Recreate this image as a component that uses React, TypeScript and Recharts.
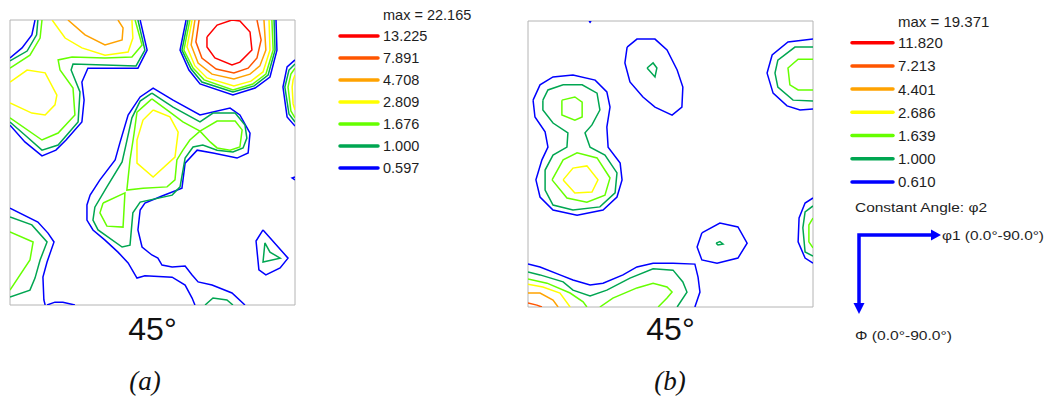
import { ScatterChart, Scatter, XAxis, YAxis, ReferenceArea } from "recharts";

// ODF sections at phi2 = 45deg; contour polylines are (phi1, PHI) in degrees
type Pt = [number, number];
type Contour = { level: number; pts: Pt[] };

const LEVEL_COLORS = ["#ff0000", "#ff5500", "#ffa200", "#ffff00", "#66ff00", "#00a651", "#0000ff"];
const RED = 0, ORANGERED = 1, ORANGE = 2, YELLOW = 3, GREEN = 4, DKGREEN = 5, BLUE = 6;

const LEVELS_A = ["13.225", "7.891", "4.708", "2.809", "1.676", "1.000", "0.597"];
const MAX_A = "22.165";
const LEVELS_B = ["11.820", "7.213", "4.401", "2.686", "1.639", "1.000", "0.610"];
const MAX_B = "19.371";
const SECTION_LABEL = "45°";

// ---- section (a)
const aBlueCorner: Pt[] = [[7.9, 0], [6.9, 4.7], [3.8, 8.8], [0, 12.0]];
const aDkGreenCorner: Pt[] = [[8.8, 0], [8.4, 4.7], [5.4, 9.8], [0, 12.9]];
const aGreenCorner: Pt[] = [[10.1, 0], [9.5, 5.7], [6.3, 11.1], [0, 15.2]];
const aYellowTop: Pt[] = [[13.3, 0], [17.4, 5.7], [22.7, 8.8], [30.0, 11.1], [37.3, 10.1], [38.8, 5.7], [38.5, 0]];
const aOrangeTop: Pt[] = [[18.3, 0], [23.7, 4.7], [30.0, 7.9], [35.4, 6.3], [35.7, 2.5], [34.1, 0]];
const aBlueWest: Pt[] = [[41.1, 0], [43.3, 9.5], [40.4, 15.2], [24.6, 15.2], [22.7, 19.6], [23.4, 25.3], [22.7, 32.2], [17.7, 37.9], [14.5, 41.1], [10.1, 42.9], [4.7, 38.5], [0, 33.2]];
const aDkGreenWest: Pt[] = [[40.4, 0], [42.6, 9.5], [39.8, 14.5], [19.9, 13.9], [19.3, 15.8], [22.1, 22.7], [21.5, 32.2], [15.2, 39.5], [10.1, 41.1], [4.7, 36.3], [0, 32.2]];
const aGreenWest: Pt[] = [[39.5, 0], [41.7, 7.9], [38.5, 11.7], [30.0, 12.0], [19.6, 11.7], [15.2, 12.6], [15.8, 15.8], [19.9, 21.5], [20.5, 30.0], [15.2, 35.7], [10.1, 37.9], [0, 30.9]];
const aYellowWest: Pt[] = [[0, 19.6], [5.4, 15.8], [11.1, 16.7], [14.8, 23.7], [14.2, 26.8], [11.1, 30.0], [6.9, 29.4], [0, 26.2]];

const aBlueNE: Pt[] = [[55.6, 0], [53.7, 9.5], [56.5, 15.8], [60.0, 20.2], [70.4, 23.7], [77.4, 21.5], [82.1, 18.0], [84.3, 9.5], [84.0, 0]];
const aDkGreenNE: Pt[] = [[56.2, 0], [54.3, 9.5], [57.2, 15.5], [60.6, 19.6], [70.4, 22.7], [77.1, 20.8], [81.5, 17.4], [83.7, 9.5], [83.4, 0]];
const aGreenNE: Pt[] = [[56.8, 0], [54.9, 9.5], [57.8, 15.2], [61.3, 18.9], [70.4, 22.1], [76.7, 20.2], [80.8, 17.1], [83.1, 9.5], [82.7, 0]];
const aYellowNE: Pt[] = [[57.5, 0], [55.9, 8.5], [58.4, 14.5], [62.2, 18.3], [70.7, 20.8], [76.1, 19.3], [79.9, 16.4], [82.1, 9.5], [81.8, 0]];
const aOrangeNE: Pt[] = [[58.4, 0], [57.2, 7.9], [59.4, 13.6], [63.8, 17.1], [70.7, 18.6], [75.8, 17.1], [78.9, 14.5], [80.8, 9.5], [80.2, 0]];
const aOrangeRedNE: Pt[] = [[59.7, 0], [58.7, 6.9], [60.6, 12.0], [65.1, 15.5], [70.7, 16.7], [75.2, 15.2], [78.0, 12.0], [79.3, 6.3], [78.0, 0]];
const aRedNE: Pt[] = [[62.2, 5.4], [65.4, 1.6], [70.1, 0], [72.6, 0.3], [75.8, 3.8], [76.4, 9.5], [72.6, 13.3], [70.1, 14.2], [64.7, 12.0], [62.2, 8.5], [62.2, 5.4]];

const aBlueEast: Pt[] = [[90, 12.6], [87.5, 14.8], [86.2, 21.2], [87.5, 30.6], [90, 33.5]];
const aDkGreenEast: Pt[] = [[90, 13.9], [88.1, 15.8], [86.8, 21.2], [88.1, 29.7], [90, 32.2]];
const aGreenEast: Pt[] = [[90, 15.2], [88.7, 17.1], [87.8, 21.2], [88.7, 28.7], [90, 30.9]];
const aYellowEast: Pt[] = [[90, 17.4], [89.4, 18.9], [89.1, 21.2], [89.4, 26.5], [90, 28.4]];
const aBlueEdge: Pt[] = [[90, 49.6], [89.1, 49.9], [90, 50.5]];

const aBlueMid: Pt[] = [
  [58.4, 90], [57.5, 87.8], [55.3, 83.7], [51.2, 81.2], [42.6, 80.8], [40.1, 81.5], [37.3, 76.7], [34.1, 73.3],
  [30.0, 69.5], [26.2, 66.3], [24.3, 63.2], [24.3, 58.4], [25.3, 55.3], [28.4, 50.5], [33.2, 44.2], [34.7, 38.8],
  [37.3, 30.0], [41.1, 24.3], [45.2, 21.5], [51.5, 25.3], [60.0, 30.0], [69.5, 27.8], [72.6, 30.0], [75.8, 35.7],
  [75.2, 42.0], [71.7, 43.6], [64.1, 42.0], [59.1, 41.1], [55.3, 45.2], [54.3, 53.1], [48.0, 55.6], [42.6, 57.8],
  [41.1, 60.0], [40.4, 66.3], [41.7, 71.7], [44.8, 74.2], [46.7, 75.2], [48.0, 77.4], [51.2, 78.0], [55.3, 77.7],
  [57.5, 80.5], [59.4, 82.7], [63.8, 83.7], [70.1, 86.2], [74.2, 90],
];
const aDkGreenMid: Pt[] = [
  [44.8, 23.1], [41.1, 25.6], [38.5, 30.9], [36.6, 39.5], [35.4, 44.8], [30.6, 52.7], [26.8, 59.1], [26.2, 63.2],
  [27.8, 66.3], [35.4, 71.7], [37.9, 71.1], [38.8, 60.9], [41.1, 57.5], [51.2, 55.3], [53.7, 52.7], [55.3, 43.6],
  [57.8, 40.1], [60.9, 39.5], [65.4, 41.1], [70.4, 41.7], [73.6, 40.4], [74.8, 37.3], [74.2, 33.2], [71.1, 29.4],
  [64.1, 29.4], [60.0, 32.2], [51.5, 27.5], [44.8, 23.1],
];
const aGreenMid: Pt[] = [
  [44.8, 24.9], [50.5, 29.1], [54.6, 32.2], [60.0, 35.1], [63.2, 38.5], [65.4, 40.4], [69.5, 41.1], [72.6, 40.1],
  [73.3, 34.7], [71.1, 31.9], [65.4, 31.9], [60.0, 35.1], [56.8, 37.9], [54.6, 41.1], [52.7, 44.2], [52.1, 50.5],
  [49.6, 52.7], [42.0, 53.1], [36.9, 53.7], [37.9, 44.2], [39.2, 35.7], [40.1, 29.1], [44.8, 24.9],
];
const aGreenLobe: Pt[] = [[29.4, 57.8], [36.3, 54.6], [35.7, 65.4], [30.6, 65.1], [28.4, 60.9], [29.4, 57.8]];
const aYellowMid: Pt[] = [[45.2, 28.4], [50.5, 30.6], [53.1, 35.4], [52.1, 43.3], [45.2, 49.6], [40.1, 45.2], [40.1, 37.9], [42.0, 31.6], [45.2, 28.4]];

const aBlueSW: Pt[] = [[0, 59.4], [8.8, 63.8], [12.0, 67.3], [13.9, 70.1], [11.7, 76.4], [10.4, 81.2], [10.7, 88.4], [11.1, 90]];
const aDkGreenSW: Pt[] = [[0, 62.2], [6.9, 64.7], [11.7, 70.1], [9.5, 75.8], [7.9, 81.5], [6.3, 85.3], [0, 87.5]];
const aGreenSW: Pt[] = [[0, 66.9], [7.3, 70.1], [6.3, 75.8], [0, 85.3]];
const aBlueSouth: Pt[] = [[11.7, 90], [14.2, 89.1], [16.7, 89.1], [20.5, 90]];
const aDkGreenSouth: Pt[] = [[61.6, 90], [64.1, 87.8], [68.5, 88.4], [70.4, 90]];
const aBlueTri: Pt[] = [[79.9, 66.3], [77.7, 69.8], [78.6, 78.9], [80.8, 80.5], [85.3, 78.3], [87.8, 75.2], [79.9, 66.3]];
const aDkGreenTri: Pt[] = [[80.5, 70.4], [82.1, 73.3], [85.3, 75.2], [79.9, 76.4], [80.5, 70.4]];

const CONTOURS_A: Contour[] = [
  { level: BLUE, pts: aBlueCorner }, { level: DKGREEN, pts: aDkGreenCorner }, { level: GREEN, pts: aGreenCorner },
  { level: YELLOW, pts: aYellowTop }, { level: ORANGE, pts: aOrangeTop },
  { level: BLUE, pts: aBlueWest }, { level: DKGREEN, pts: aDkGreenWest }, { level: GREEN, pts: aGreenWest },
  { level: YELLOW, pts: aYellowWest },
  { level: BLUE, pts: aBlueNE }, { level: DKGREEN, pts: aDkGreenNE }, { level: GREEN, pts: aGreenNE },
  { level: YELLOW, pts: aYellowNE }, { level: ORANGE, pts: aOrangeNE }, { level: ORANGERED, pts: aOrangeRedNE },
  { level: RED, pts: aRedNE },
  { level: BLUE, pts: aBlueEast }, { level: DKGREEN, pts: aDkGreenEast }, { level: GREEN, pts: aGreenEast },
  { level: YELLOW, pts: aYellowEast }, { level: BLUE, pts: aBlueEdge },
  { level: BLUE, pts: aBlueMid }, { level: DKGREEN, pts: aDkGreenMid }, { level: GREEN, pts: aGreenMid },
  { level: GREEN, pts: aGreenLobe }, { level: YELLOW, pts: aYellowMid },
  { level: BLUE, pts: aBlueSW }, { level: DKGREEN, pts: aDkGreenSW }, { level: GREEN, pts: aGreenSW },
  { level: BLUE, pts: aBlueSouth }, { level: DKGREEN, pts: aDkGreenSouth },
  { level: BLUE, pts: aBlueTri }, { level: DKGREEN, pts: aDkGreenTri },
];

// ---- section (b)
const bBlueDot: Pt[] = [[19.3, 0], [19.6, 0.4], [19.9, 0]];
const bBlueOval: Pt[] = [[31.3, 8.2], [34.4, 5.7], [40.1, 5.7], [43.9, 9.1], [47.1, 15.4], [48.9, 20.8], [48.6, 27.1], [45.5, 29.6], [40.1, 27.1], [36.3, 23.9], [32.2, 19.2], [30.6, 13.2], [31.3, 8.2]];
const bDkGreenOval: Pt[] = [[37.6, 14.8], [39.5, 13.2], [40.7, 14.8], [40.1, 17.6], [37.6, 14.8]];
const bBlueEight: Pt[] = [
  [1.6, 24.9], [3.8, 20.1], [7.9, 17.6], [14.2, 17.0], [21.2, 18.6], [24.9, 22.3], [25.9, 27.1], [24.9, 33.4],
  [25.3, 39.7], [29.1, 44.7], [29.7, 50.0], [28.1, 55.4], [23.7, 59.5], [15.5, 61.1], [7.9, 59.5], [3.8, 55.4],
  [2.5, 50.0], [4.4, 43.7], [6.3, 39.7], [5.4, 34.9], [2.2, 30.2], [1.6, 24.9],
];
const bDkGreenEight: Pt[] = [
  [4.7, 24.9], [6.3, 21.7], [11.1, 20.1], [17.1, 20.1], [21.8, 22.7], [22.7, 28.0], [20.2, 32.7], [18.0, 35.2],
  [19.6, 39.7], [24.3, 42.2], [28.1, 47.8], [27.5, 54.1], [22.7, 58.5], [14.2, 59.5], [7.9, 57.9], [5.4, 53.2],
  [5.4, 46.9], [7.9, 42.2], [12.3, 39.7], [12.6, 35.2], [7.9, 32.1], [4.7, 28.0], [4.7, 24.9],
];
const bGreenUpper: Pt[] = [[10.7, 24.9], [14.8, 23.9], [17.1, 25.5], [17.1, 30.2], [14.8, 31.2], [10.7, 29.6], [10.7, 24.9]];
const bGreenLower: Pt[] = [[7.6, 50.0], [11.1, 43.7], [15.5, 41.5], [21.8, 43.1], [25.9, 49.4], [24.3, 54.8], [18.6, 57.0], [12.3, 55.7], [7.6, 50.0]];
const bYellowLower: Pt[] = [[11.1, 50.0], [14.2, 46.3], [18.6, 45.6], [22.1, 50.0], [20.2, 53.8], [14.8, 54.1], [11.1, 50.0]];

const bBlueNE: Pt[] = [[90, 5.7], [82.1, 6.6], [77.1, 10.7], [75.5, 16.4], [77.4, 22.7], [81.8, 26.7], [85.9, 28.0], [90, 27.7]];
const bDkGreenNE: Pt[] = [[90, 8.2], [84.3, 8.2], [78.9, 12.3], [78.0, 16.4], [78.9, 20.8], [83.7, 24.9], [90, 25.2]];
const bGreenNE: Pt[] = [[90, 12.0], [85.3, 12.0], [82.1, 14.8], [82.7, 20.1], [85.3, 21.7], [90, 21.7]];

const bBlueEast: Pt[] = [[90, 55.7], [87.5, 57.3], [85.6, 62.0], [85.3, 69.5], [87.5, 74.6], [90, 76.2]];
const bDkGreenEast: Pt[] = [[90, 58.2], [87.5, 60.1], [86.8, 65.1], [87.5, 72.7], [90, 74.0]];
const bGreenEast: Pt[] = [[90, 62.0], [88.7, 64.2], [88.7, 69.5], [90, 71.4]];

const bBlueIsland: Pt[] = [[54.9, 66.7], [60.6, 63.6], [66.3, 64.8], [69.2, 69.9], [66.3, 74.6], [59.7, 76.2], [54.9, 75.2], [53.4, 71.1], [54.9, 66.7]];
const bDkGreenIsland: Pt[] = [[59.4, 69.9], [60.6, 69.4], [61.6, 70.2], [60.0, 70.5], [59.4, 69.9]];

const bBlueSouth: Pt[] = [[0, 76.5], [3.8, 77.4], [10.1, 79.9], [14.2, 81.5], [19.6, 83.1], [23.7, 82.5], [30.0, 79.9], [34.4, 77.4], [39.5, 76.2], [45.8, 76.2], [52.7, 76.5], [53.7, 80.6], [54.3, 85.3], [52.7, 90]];
const bDkGreenSouth: Pt[] = [[0, 79.0], [3.8, 79.9], [11.1, 82.1], [14.2, 84.7], [19.6, 86.5], [24.9, 84.7], [32.2, 80.9], [39.5, 78.0], [45.8, 78.4], [48.9, 82.1], [50.2, 85.3], [47.1, 90]];
const bGreenSouthW: Pt[] = [[0, 81.2], [6.0, 82.5], [13.3, 85.6], [17.4, 88.4], [18.6, 90]];
const bGreenSouthE: Pt[] = [[22.7, 90], [26.8, 87.2], [34.4, 84.0], [39.5, 82.5], [43.9, 83.7], [45.5, 85.3], [43.9, 87.2], [41.1, 90]];
const bYellowSouth: Pt[] = [[0, 82.8], [4.7, 83.7], [10.1, 85.6], [13.3, 90]];
const bOrangeSouth: Pt[] = [[0, 85.6], [3.8, 85.6], [7.9, 87.8], [9.5, 90]];
const bOrangeRedSouth: Pt[] = [[0, 88.7], [2.8, 89.4], [4.4, 90]];

const CONTOURS_B: Contour[] = [
  { level: BLUE, pts: bBlueDot },
  { level: BLUE, pts: bBlueOval }, { level: DKGREEN, pts: bDkGreenOval },
  { level: BLUE, pts: bBlueEight }, { level: DKGREEN, pts: bDkGreenEight }, { level: GREEN, pts: bGreenUpper },
  { level: GREEN, pts: bGreenLower }, { level: YELLOW, pts: bYellowLower },
  { level: BLUE, pts: bBlueNE }, { level: DKGREEN, pts: bDkGreenNE }, { level: GREEN, pts: bGreenNE },
  { level: BLUE, pts: bBlueEast }, { level: DKGREEN, pts: bDkGreenEast }, { level: GREEN, pts: bGreenEast },
  { level: BLUE, pts: bBlueIsland }, { level: DKGREEN, pts: bDkGreenIsland },
  { level: BLUE, pts: bBlueSouth }, { level: DKGREEN, pts: bDkGreenSouth }, { level: GREEN, pts: bGreenSouthW },
  { level: GREEN, pts: bGreenSouthE }, { level: YELLOW, pts: bYellowSouth }, { level: ORANGE, pts: bOrangeSouth },
  { level: ORANGERED, pts: bOrangeRedSouth },
];

const NoDot = () => <g />;
const SANS = "'Liberation Sans', Arial, sans-serif";

function OdfSection({ contours, left, top, w, h }: { contours: Contour[]; left: number; top: number; w: number; h: number }) {
  return (
    <div style={{ position: "absolute", left: left - 2, top: top - 2 }}>
      <ScatterChart width={w + 4} height={h + 4} margin={{ top: 2, right: 2, bottom: 2, left: 2 }}>
        <XAxis type="number" dataKey="x" domain={[0, 90]} allowDataOverflow hide />
        <YAxis type="number" dataKey="y" domain={[0, 90]} allowDataOverflow reversed hide />
        <ReferenceArea x1={0} x2={90} y1={0} y2={90} fill="none" stroke="#b4b4b4" strokeWidth={1} />
        {contours.map((c, i) => (
          <Scatter
            key={i}
            data={c.pts.map(([x, y]) => ({ x, y }))}
            line={{ stroke: LEVEL_COLORS[c.level], strokeWidth: 1.5 }}
            lineType="joint"
            shape={NoDot}
            isAnimationActive={false}
          />
        ))}
      </ScatterChart>
    </div>
  );
}

function LevelLegend({ levels, max, x0, x1, tx, maxY, y0, step, fontSize }: {
  levels: string[]; max: string; x0: number; x1: number; tx: number; maxY: number; y0: number; step: number; fontSize: number;
}) {
  return (
    <g fontFamily={SANS} fontSize={fontSize} fill="#1e1e1e">
      <text x={tx} y={maxY} dominantBaseline="central">max = {max}</text>
      {levels.map((lv, i) => (
        <g key={lv}>
          <line x1={x0} x2={x1} y1={y0 + i * step} y2={y0 + i * step} stroke={LEVEL_COLORS[i]} strokeWidth={3.5} strokeLinecap="round" />
          <text x={tx} y={y0 + i * step} dominantBaseline="central">{lv}</text>
        </g>
      ))}
    </g>
  );
}

export default function App() {
  return (
    <div style={{ position: "absolute", left: 0, top: 0, width: 1047, height: 399, background: "#fff" }}>
      <OdfSection contours={CONTOURS_A} left={10} top={20} w={285} h={285} />
      <OdfSection contours={CONTOURS_B} left={528} top={21} w={285} h={286} />
      <svg width={1047} height={399} style={{ position: "absolute", left: 0, top: 0, pointerEvents: "none" }}>
        <LevelLegend levels={LEVELS_A} max={MAX_A} x0={340} x1={378} tx={383} maxY={15} y0={36} step={22} fontSize={14.5} />
        <LevelLegend levels={LEVELS_B} max={MAX_B} x0={852} x1={893} tx={898} maxY={21} y0={42.7} step={23.2} fontSize={15} />

        <g fontFamily={SANS} fontSize={13} fill="#1e1e1e">
          <text x={855} y={207} dominantBaseline="central" textLength={132} lengthAdjust="spacingAndGlyphs">Constant Angle: φ2</text>
          <text x={942} y={235} dominantBaseline="central" textLength={102} lengthAdjust="spacingAndGlyphs">φ1 (0.0°-90.0°)</text>
          <text x={855} y={335} dominantBaseline="central" textLength={97} lengthAdjust="spacingAndGlyphs">Φ (0.0°-90.0°)</text>
        </g>
        <g stroke="#0000ff" strokeWidth={3.5} fill="#0000ff">
          <polyline points="933,235 859,235 859,304" fill="none" />
          <polygon points="931,229.5 941,235 931,240.5" stroke="none" />
          <polygon points="853.5,303 859,314 864.5,303" stroke="none" />
        </g>

        <g fontFamily={SANS} fontSize={32} fill="#111" textAnchor="middle">
          <text x={152.5} y={340}>{SECTION_LABEL}</text>
          <text x={670.5} y={340}>{SECTION_LABEL}</text>
        </g>
        <g fontFamily="'Liberation Serif', 'Times New Roman', serif" fontStyle="italic" fontSize={27} fill="#111" textAnchor="middle">
          <text x={145} y={390}>(a)</text>
          <text x={670} y={390}>(b)</text>
        </g>
      </svg>
    </div>
  );
}
